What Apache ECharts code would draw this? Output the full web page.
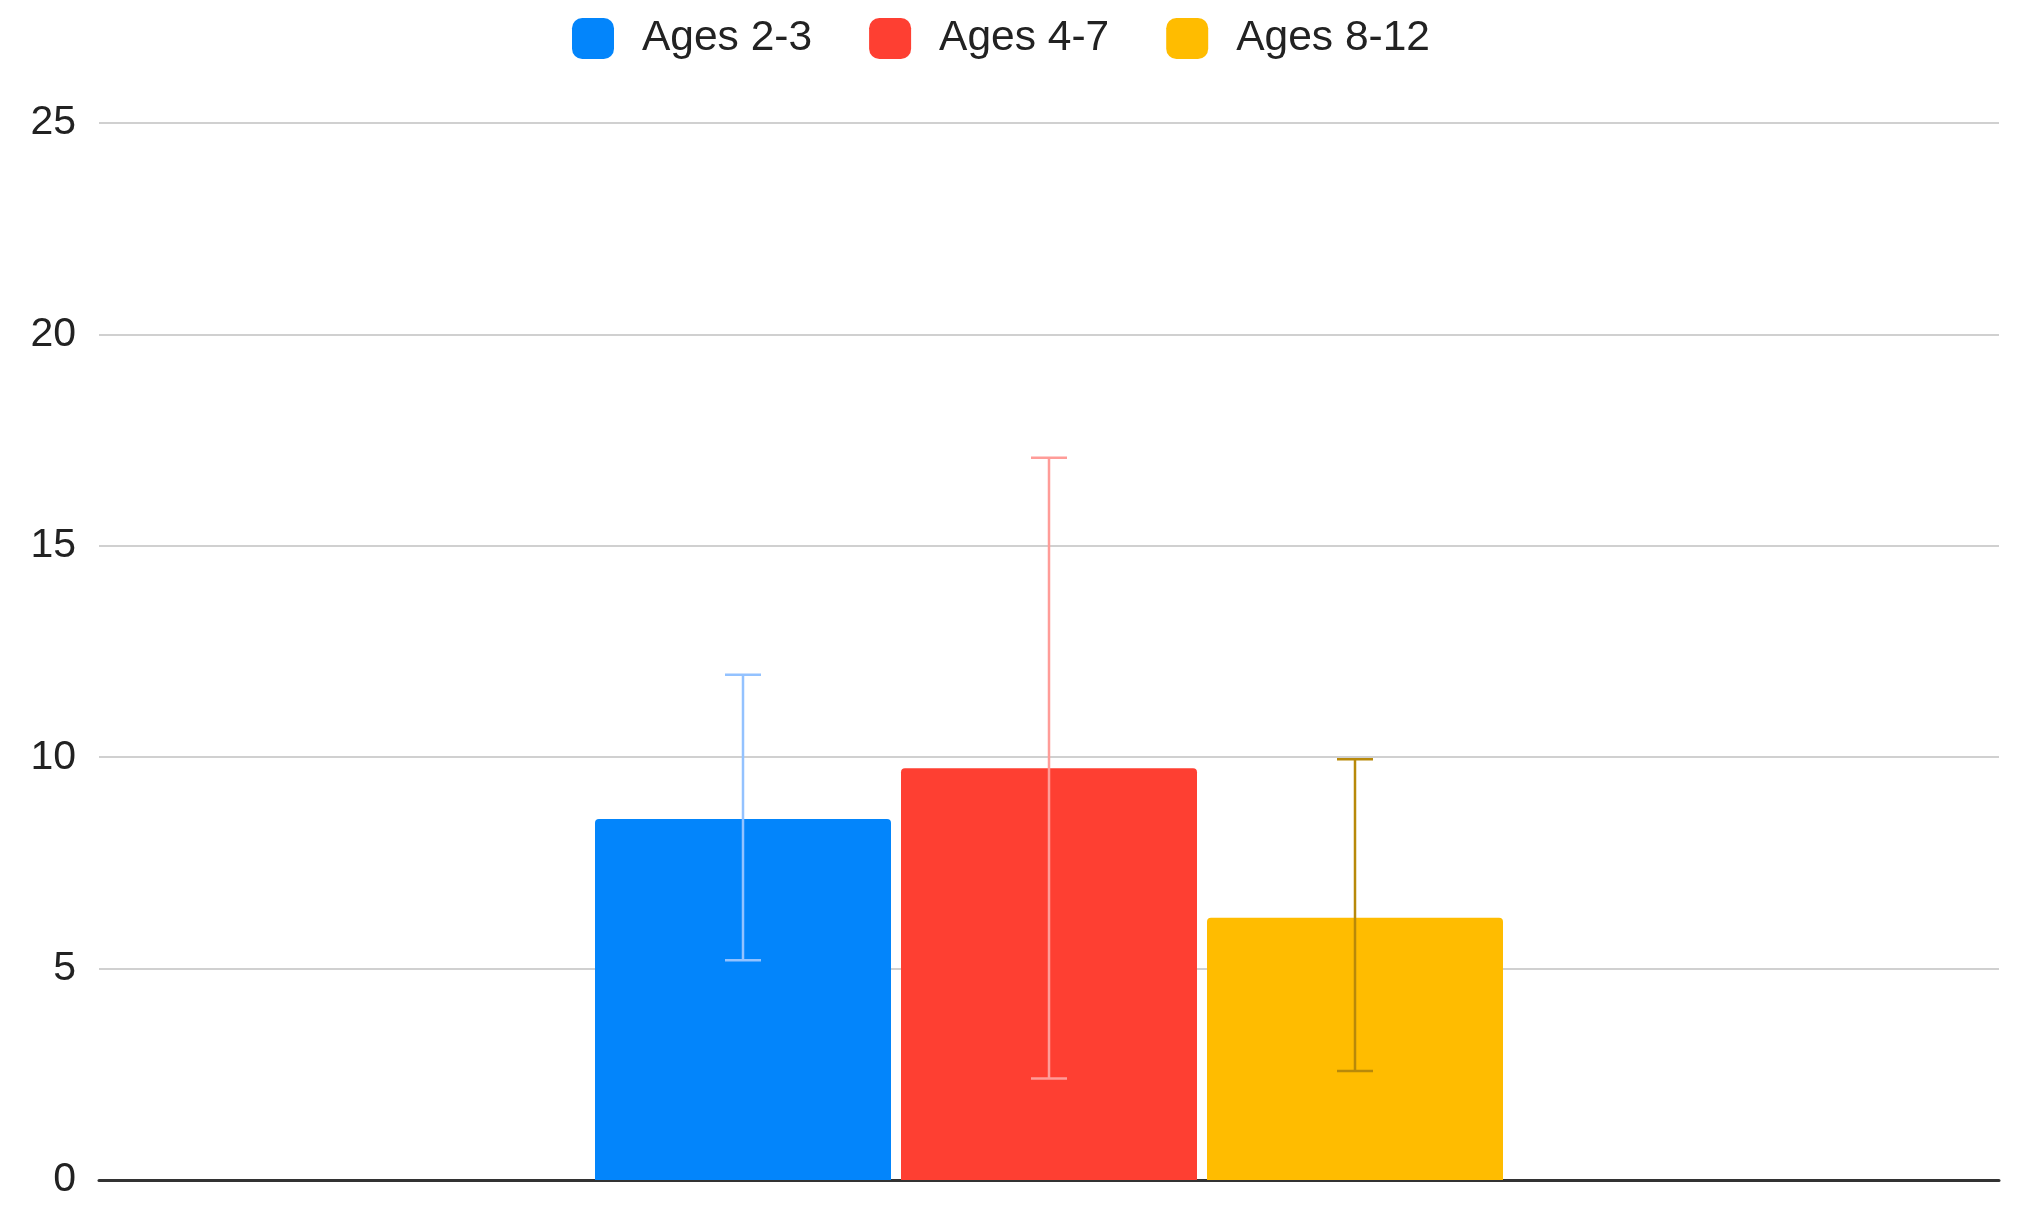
<!DOCTYPE html>
<html><head><meta charset="utf-8">
<script src="https://cdn.jsdelivr.net/npm/echarts@6/dist/echarts.min.js"></script>
<style>html,body{margin:0;padding:0;background:#fff}#c{width:2035px;height:1217px}</style>
</head><body><div id="c"></div>
<script>
const categories = [''];
const seriesNames = ['Ages 2-3', 'Ages 4-7', 'Ages 8-12'];
const means = [8.54, 9.74, 6.2];
const errLow = [5.2, 2.4, 2.58];
const errHigh = [11.95, 17.08, 9.95];
const yTicks = [0, 5, 10, 15, 20, 25];

const colors = ['#0385fb', '#fe3f32', '#ffbc00'];
const errColors = ['#93c2ff', '#ff9c98', '#b8890a'];
const BAR_W = 296, BAR_GAP = 10, CAP = 36;

const chart = echarts.init(document.getElementById('c'));
const series = [];
seriesNames.forEach((n, i) => {
  series.push({
    name: n, type: 'bar', data: [means[i]], barWidth: BAR_W, barGap: (BAR_GAP / BAR_W * 100) + '%',
    itemStyle: { color: colors[i], borderRadius: [4, 4, 0, 0] }
  });
});
seriesNames.forEach((n, i) => {
  series.push({
    type: 'custom', name: n + ' err', silent: true, z: 5,
    data: [[0, errLow[i], errHigh[i]]],
    renderItem: function (params, api) {
      const off = (i - 1) * (BAR_W + BAR_GAP);
      const lo = api.coord([api.value(0), api.value(1)]);
      const hi = api.coord([api.value(0), api.value(2)]);
      const x = lo[0] + off;
      const st = { stroke: errColors[i], lineWidth: 2.5 };
      return { type: 'group', children: [
        { type: 'line', shape: { x1: x, y1: lo[1], x2: x, y2: hi[1] }, style: st },
        { type: 'line', shape: { x1: x - CAP / 2, y1: lo[1], x2: x + CAP / 2, y2: lo[1] }, style: st },
        { type: 'line', shape: { x1: x - CAP / 2, y1: hi[1], x2: x + CAP / 2, y2: hi[1] }, style: st }
      ]};
    }
  });
});
chart.setOption({
  animation: false,
  textStyle: { fontFamily: 'Liberation Sans, Arial, sans-serif' },
  legend: {
    data: seriesNames, top: 12, left: 567, itemWidth: 42, itemHeight: 41, itemGap: 57,
    icon: 'roundRect',
    textStyle: { fontSize: 42.5, color: '#222', padding: [0, 0, 0, 23] }
  },
  grid: { left: 99, right: 36, top: 123, bottom: 37 },
  xAxis: {
    type: 'category', data: categories,
    axisLine: { lineStyle: { color: '#333', width: 3 } },
    axisTick: { show: false }, axisLabel: { show: false }
  },
  yAxis: {
    type: 'value', min: yTicks[0], max: yTicks[yTicks.length - 1], interval: 5,
    axisLine: { show: false }, axisTick: { show: false },
    axisLabel: { fontSize: 41, color: '#222', margin: 23 },
    splitLine: { lineStyle: { color: '#d0d0d0', width: 2 } }
  },
  series: series
});
</script></body></html>
